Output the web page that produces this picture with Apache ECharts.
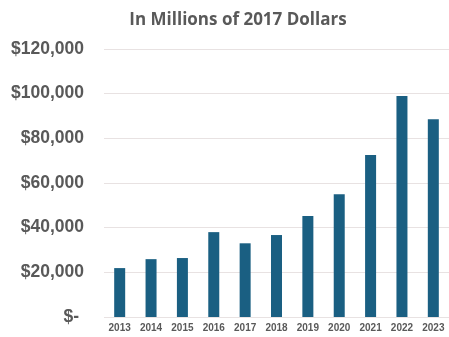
<!DOCTYPE html>
<html>
<head>
<meta charset="utf-8">
<script src="https://cdn.jsdelivr.net/npm/echarts@6/dist/echarts.min.js"></script>
<style>
  html, body { margin: 0; padding: 0; background: #fff; }
  #chart { width: 449px; height: 337px; }
</style>
</head>
<body>
<div id="chart"></div>
<script>
// Annual spending, in millions of 2017 dollars
const years = ['2013', '2014', '2015', '2016', '2017', '2018', '2019', '2020', '2021', '2022', '2023'];
const spending = [21900, 25900, 26400, 38000, 33000, 36700, 45200, 55000, 72500, 99000, 88500];
const yTicks = [0, 20000, 40000, 60000, 80000, 100000, 120000];

const chart = echarts.init(document.getElementById('chart'));

// Accounting-style currency labels: zero shows as a dash
function money(v) {
  if (v === 0) return '$- ';
  return '$' + v.toLocaleString('en-US');
}

chart.setOption({
  animation: false,
  title: {
    text: 'In Millions of 2017 Dollars',
    left: 233,
    textAlign: 'center',
    top: 7,
    textStyle: { fontFamily: 'Open Sans', fontWeight: 'bold', fontSize: 17, color: '#595959' }
  },
  grid: { left: 104, right: -4, top: 49, bottom: 20, containLabel: false },
  xAxis: {
    type: 'category',
    data: years,
    axisLine: { show: false },
    axisTick: { show: false },
    axisLabel: {
      margin: 6,
      fontFamily: 'Liberation Sans', fontWeight: 'bold', fontSize: 10, color: '#595959'
    }
  },
  yAxis: {
    type: 'value',
    min: yTicks[0],
    max: yTicks[yTicks.length - 1],
    interval: 20000,
    axisLine: { show: false },
    axisTick: { show: false },
    splitLine: { lineStyle: { color: '#e8e2e2', width: 1 } },
    axisLabel: {
      margin: 20,
      formatter: money,
      fontFamily: 'Liberation Sans', fontWeight: 'bold', fontSize: 17.5, color: '#595959'
    }
  },
  series: [{
    type: 'bar',
    data: spending,
    barWidth: 11,
    itemStyle: { color: '#1a5f82' }
  }]
});
</script>
</body>
</html>
